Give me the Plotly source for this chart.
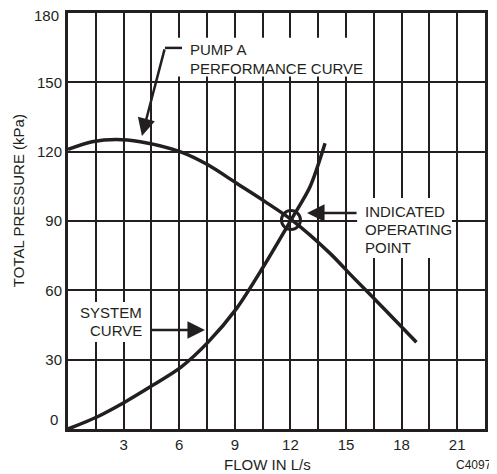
import plotly.graph_objects as go

# ---- data ----
pump_x = [0, 1.3, 2.6, 3.9, 6.04, 7.57, 9.1, 10.63, 12.05, 14.14, 15.4, 17.0, 18.8]
pump_y = [121, 124.3, 125.3, 124.3, 120.0, 114.2, 106.3, 98.4, 90.6, 76.0, 65.5, 52.5, 37.5]

system_x = [0, 1.56, 3.08, 4.59, 6.1, 7.56, 9.1, 10.54, 12.03, 13.06, 13.87]
system_y = [0, 5.2, 11.7, 19, 26.8, 37.6, 52.2, 70.2, 90.4, 104.8, 123.6]

x_tick_vals = [3, 6, 9, 12, 15, 18, 21]
x_tick_text = ["3", "6", "9", "12", "15", "18", "21"]
y_tick_vals = [30, 60, 90, 120, 150]
y_tick_text = ["30", "60", "90", "120", "150"]
y_top_label = "180"

op_point = (12.03, 90.4)

INK = "#231f20"
FONT = "Liberation Sans, Arial, sans-serif"

fig = go.Figure()
fig.add_trace(go.Scatter(x=pump_x, y=pump_y, mode="lines",
                         line=dict(color=INK, width=3.5, shape="spline", smoothing=0.8),
                         showlegend=False, hoverinfo="skip"))
fig.add_trace(go.Scatter(x=system_x, y=system_y, mode="lines",
                         line=dict(color=INK, width=3.5, shape="spline", smoothing=0.8),
                         showlegend=False, hoverinfo="skip"))

shapes = []
# white boxes interrupting the grid behind labels
for (x0, x1, y0, y1) in [(5.5, 16.3, 152.5, 169.3),
                         (0.38, 4.32, 37.6, 55.0),
                         (15.6, 20.72, 74.0, 100.0)]:
    shapes.append(dict(type="rect", xref="x", yref="y", x0=x0, x1=x1, y0=y0, y1=y1,
                       fillcolor="white", line=dict(width=0), layer="between"))
# operating point circle
shapes.append(dict(type="circle", xref="x", yref="y", xsizemode="pixel", ysizemode="pixel",
                   xanchor=op_point[0], yanchor=op_point[1], x0=-9.5, x1=9.5, y0=-9.5, y1=9.5,
                   line=dict(color=INK, width=3)))
# stub of pump arrow
shapes.append(dict(type="line", xref="x", yref="y", x0=5.23, x1=6.15, y0=164.9, y1=164.9,
                   line=dict(color=INK, width=2.5)))

ann = []
tf = dict(family=FONT, size=15, color=INK)
def txt(text, x, y, xanchor="left", xref="x", yref="y", size=15):
    ann.append(dict(text=text, x=x, y=y, xref=xref, yref=yref, xanchor=xanchor,
                    yanchor="middle", showarrow=False,
                    font=dict(family=FONT, size=size, color=INK)))

txt("PUMP A", 6.47, 164.0)
txt("PERFORMANCE CURVE", 6.47, 156.2)
txt("SYSTEM", 4.12, 50.2, xanchor="right")
txt("CURVE", 4.12, 42.8, xanchor="right")
txt("INDICATED", 15.92, 93.9)
txt("OPERATING", 15.92, 86.3)
txt("POINT", 15.92, 78.6)

# arrows
def arrow(x, y, ax, ay):
    ann.append(dict(x=x, y=y, ax=ax, ay=ay, xref="x", yref="y", axref="x", ayref="y",
                    text="", showarrow=True, arrowhead=2, arrowsize=1.4, arrowwidth=2.5,
                    arrowcolor=INK))
arrow(3.99, 126.8, 5.23, 164.9)
arrow(7.39, 42.8, 4.43, 42.8)
arrow(12.9, 93.5, 15.65, 93.5)

# axis titles and extras
txt("0", -0.019, 3.9, xanchor="right", xref="paper")
txt(y_top_label, -0.017, 179.1, xanchor="right", xref="paper")
ann.append(dict(text="TOTAL PRESSURE (kPa)", x=-0.12, y=99, xref="paper", yref="y",
                textangle=-90, showarrow=False, xanchor="center", yanchor="middle",
                font=tf))
ann.append(dict(text="FLOW IN L/s", x=10.74, y=-0.086, xref="x", yref="paper",
                showarrow=False, xanchor="center", yanchor="middle", font=tf))
ann.append(dict(text="C4097", x=1.022, y=-0.0855, xref="paper", yref="paper",
                showarrow=False, xanchor="right", yanchor="middle",
                font=dict(family=FONT, size=12, color=INK)))

# the page places the figure 8 px in from the top-left corner
fig.update_layout(
    width=489, height=466,
    margin=dict(l=60, r=12, t=5, b=45, autoexpand=False),
    paper_bgcolor="white", plot_bgcolor="white",
    shapes=shapes, annotations=ann,
    font=dict(family=FONT, size=15, color=INK),
    xaxis=dict(range=[0, 22.5], tickvals=x_tick_vals, ticktext=x_tick_text,
               showgrid=True, gridcolor=INK, gridwidth=1.5,
               minor=dict(dtick=1.5, tick0=0, showgrid=True, gridcolor=INK, gridwidth=1.5),
               showline=True, linecolor=INK, linewidth=3, mirror=True,
               ticks="", zeroline=False, fixedrange=True, automargin=False,
               ticklabeloverflow="allow",
               tickfont=dict(family=FONT, size=15, color=INK)),
    yaxis=dict(range=[0, 180], tickvals=y_tick_vals, ticktext=y_tick_text,
               showgrid=True, gridcolor=INK, gridwidth=1.5,
               showline=True, linecolor=INK, linewidth=3, mirror=True,
               ticks="", zeroline=False, fixedrange=True, automargin=False,
               ticklabeloverflow="allow",
               tickfont=dict(family=FONT, size=15, color=INK)),
)

fig.write_html("out.html")
